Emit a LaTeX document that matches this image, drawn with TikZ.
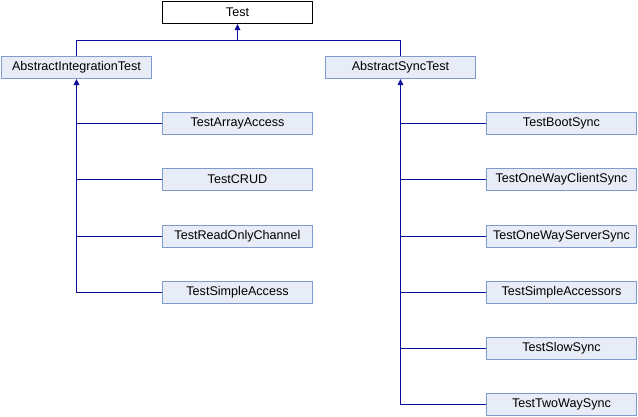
\documentclass[tikz,border=0pt]{standalone}
\usepackage{fontspec}
\setmainfont{Liberation Sans}
\usetikzlibrary{arrows.meta}
\definecolor{boxfill}{HTML}{E8ECF6}
\definecolor{boxline}{HTML}{7E9BD0}
\definecolor{edgecol}{HTML}{0C0C9C}
\tikzset{
  cls/.style={draw=boxline, fill=boxfill, line width=1pt, minimum width=150pt, minimum height=22pt, inner sep=0pt, font=\fontsize{12.6pt}{14pt}\selectfont},
  cur/.style={cls, draw=black, fill=white},
  edge/.style={draw=edgecol, line width=1pt},
  tip/.style={{Triangle[length=6pt,width=5.5pt]}-}
}
\begin{document}
\begin{tikzpicture}[x=1pt,y=-1pt]
\useasboundingbox (0,0) rectangle (638,416);
\node[cur] (test) at (237.5,12.5) {Test};
\node[cls] (ai) at (76.5,67.5) {AbstractIntegrationTest};
\node[cls] (as) at (400.5,67.5) {AbstractSyncTest};
\node[cls] (l1) at (237.5,123.5) {TestArrayAccess};
\node[cls] (l2) at (237.5,179.5) {TestCRUD};
\node[cls] (l3) at (237.5,236.5) {TestReadOnlyChannel};
\node[cls] (l4) at (237.5,292.5) {TestSimpleAccess};
\node[cls] (r1) at (561.5,123.5) {TestBootSync};
\node[cls] (r2) at (561.5,179.5) {TestOneWayClientSync};
\node[cls] (r3) at (561.5,236.5) {TestOneWayServerSync};
\node[cls] (r4) at (561.5,292.5) {TestSimpleAccessors};
\node[cls] (r5) at (561.5,348.5) {TestSlowSync};
\node[cls] (r6) at (561.5,404.5) {TestTwoWaySync};
\coordinate (j) at (237.5,40.5);
\draw[edge] (ai.north) |- (j) -| (as.north);
\draw[edge,tip] (test.south) -- (j);
\draw[edge,tip] (ai.south) |- (l4.west);
\foreach \c in {l1,l2,l3} \draw[edge] (ai.south |- \c.west) -- (\c.west);
\draw[edge,tip] (as.south) |- (r6.west);
\foreach \c in {r1,r2,r3,r4,r5} \draw[edge] (as.south |- \c.west) -- (\c.west);
\end{tikzpicture}
\end{document}
